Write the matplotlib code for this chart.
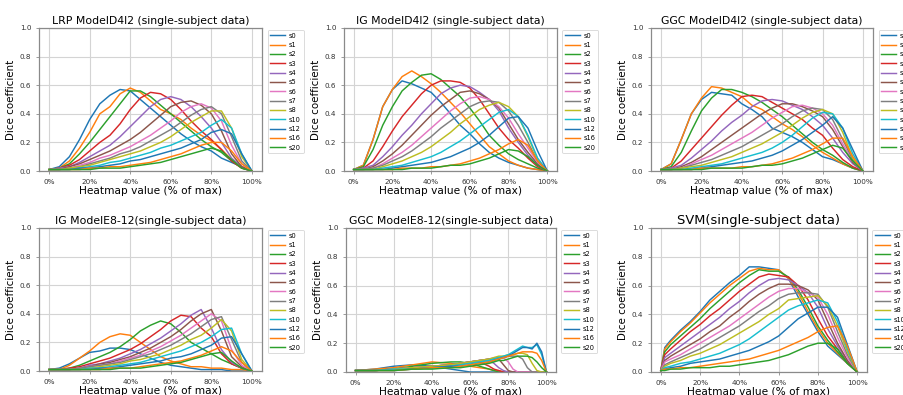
import matplotlib
matplotlib.use("Agg")
import matplotlib.pyplot as plt
from matplotlib.ticker import FuncFormatter

W, H = 904, 395
labels = ["s0", "s1", "s2", "s3", "s4", "s5", "s6", "s7", "s8", "s10", "s12", "s16", "s20"]
colors = ["#1f77b4", "#ff7f0e", "#2ca02c", "#d62728", "#9467bd", "#8c564b",
          "#e377c2", "#7f7f7f", "#bcbd22", "#17becf", "#1f77b4", "#ff7f0e", "#2ca02c"]

X = [0, 5, 10, 15, 20, 25, 30, 35, 40, 45, 50, 55, 60, 65, 70, 75, 80, 85, 90, 95, 100]
X_SVM = [0, 2, 5, 10, 15, 20, 25, 30, 35, 40, 45, 50, 55, 60, 65, 70, 75, 80, 85, 90, 95, 100]
X_GGC_E = [0, 10, 20, 30, 40, 50, 55, 60, 65, 70, 72.5, 75, 77.5, 80, 82.5, 85, 87.5, 90, 92.5, 95, 97.5, 100]

lrp_d4l2 = [
    [0.01, 0.03, 0.10, 0.22, 0.36, 0.47, 0.53, 0.57, 0.56, 0.50, 0.44, 0.38, 0.32, 0.26, 0.21, 0.17, 0.14, 0.09, 0.06, 0.03, 0.0],
    [0.01, 0.02, 0.07, 0.16, 0.27, 0.40, 0.45, 0.54, 0.58, 0.55, 0.49, 0.43, 0.40, 0.36, 0.30, 0.25, 0.21, 0.15, 0.08, 0.03, 0.0],
    [0.01, 0.02, 0.05, 0.12, 0.20, 0.29, 0.38, 0.47, 0.56, 0.56, 0.52, 0.46, 0.40, 0.34, 0.28, 0.22, 0.17, 0.13, 0.07, 0.02, 0.0],
    [0.01, 0.02, 0.04, 0.08, 0.14, 0.20, 0.25, 0.33, 0.43, 0.51, 0.55, 0.54, 0.50, 0.43, 0.35, 0.28, 0.22, 0.15, 0.07, 0.02, 0.0],
    [0.01, 0.02, 0.03, 0.06, 0.10, 0.14, 0.18, 0.24, 0.31, 0.38, 0.45, 0.50, 0.52, 0.50, 0.45, 0.38, 0.30, 0.20, 0.09, 0.03, 0.0],
    [0.01, 0.01, 0.03, 0.05, 0.08, 0.11, 0.14, 0.18, 0.22, 0.27, 0.33, 0.39, 0.45, 0.48, 0.49, 0.46, 0.40, 0.28, 0.12, 0.03, 0.0],
    [0.01, 0.01, 0.02, 0.04, 0.06, 0.09, 0.11, 0.14, 0.17, 0.21, 0.25, 0.30, 0.35, 0.41, 0.45, 0.47, 0.44, 0.35, 0.18, 0.05, 0.0],
    [0.01, 0.01, 0.02, 0.03, 0.05, 0.07, 0.09, 0.12, 0.14, 0.17, 0.21, 0.25, 0.29, 0.34, 0.39, 0.43, 0.45, 0.40, 0.24, 0.07, 0.0],
    [0.01, 0.01, 0.02, 0.03, 0.04, 0.06, 0.08, 0.10, 0.12, 0.14, 0.17, 0.20, 0.24, 0.29, 0.34, 0.38, 0.42, 0.42, 0.30, 0.10, 0.0],
    [0.01, 0.01, 0.01, 0.02, 0.03, 0.04, 0.06, 0.07, 0.09, 0.11, 0.13, 0.16, 0.18, 0.21, 0.24, 0.27, 0.32, 0.36, 0.30, 0.12, 0.0],
    [0.01, 0.01, 0.01, 0.02, 0.02, 0.03, 0.04, 0.05, 0.07, 0.08, 0.10, 0.12, 0.14, 0.16, 0.19, 0.22, 0.27, 0.29, 0.26, 0.12, 0.0],
    [0.01, 0.01, 0.01, 0.01, 0.02, 0.02, 0.03, 0.03, 0.04, 0.05, 0.06, 0.08, 0.10, 0.12, 0.15, 0.18, 0.20, 0.20, 0.14, 0.05, 0.0],
    [0.01, 0.01, 0.01, 0.01, 0.01, 0.02, 0.02, 0.02, 0.03, 0.04, 0.05, 0.06, 0.08, 0.10, 0.12, 0.14, 0.16, 0.14, 0.08, 0.02, 0.0],
]

ig_d4l2 = [
    [0.01, 0.04, 0.22, 0.45, 0.57, 0.63, 0.61, 0.58, 0.55, 0.48, 0.40, 0.32, 0.26, 0.19, 0.13, 0.09, 0.06, 0.04, 0.02, 0.01, 0.0],
    [0.01, 0.04, 0.22, 0.45, 0.57, 0.66, 0.70, 0.66, 0.61, 0.55, 0.48, 0.41, 0.33, 0.25, 0.17, 0.12, 0.07, 0.04, 0.02, 0.01, 0.0],
    [0.01, 0.03, 0.15, 0.32, 0.45, 0.56, 0.62, 0.67, 0.68, 0.64, 0.58, 0.52, 0.44, 0.35, 0.25, 0.18, 0.12, 0.08, 0.05, 0.02, 0.0],
    [0.01, 0.02, 0.07, 0.17, 0.28, 0.38, 0.46, 0.54, 0.60, 0.63, 0.63, 0.62, 0.58, 0.50, 0.40, 0.30, 0.22, 0.16, 0.09, 0.03, 0.0],
    [0.01, 0.02, 0.04, 0.10, 0.17, 0.25, 0.32, 0.40, 0.47, 0.54, 0.58, 0.60, 0.59, 0.55, 0.50, 0.42, 0.30, 0.20, 0.11, 0.04, 0.0],
    [0.01, 0.01, 0.03, 0.07, 0.12, 0.18, 0.25, 0.32, 0.39, 0.45, 0.50, 0.55, 0.56, 0.54, 0.50, 0.44, 0.33, 0.22, 0.13, 0.05, 0.0],
    [0.01, 0.01, 0.02, 0.05, 0.09, 0.13, 0.18, 0.24, 0.30, 0.36, 0.42, 0.47, 0.51, 0.52, 0.50, 0.45, 0.37, 0.26, 0.16, 0.06, 0.0],
    [0.01, 0.01, 0.02, 0.04, 0.07, 0.10, 0.14, 0.19, 0.24, 0.30, 0.35, 0.40, 0.45, 0.48, 0.49, 0.48, 0.42, 0.32, 0.20, 0.07, 0.0],
    [0.01, 0.01, 0.01, 0.03, 0.05, 0.07, 0.10, 0.13, 0.17, 0.22, 0.27, 0.33, 0.38, 0.43, 0.46, 0.48, 0.45, 0.38, 0.24, 0.08, 0.0],
    [0.01, 0.01, 0.01, 0.02, 0.03, 0.04, 0.06, 0.08, 0.10, 0.13, 0.17, 0.21, 0.26, 0.31, 0.36, 0.41, 0.43, 0.38, 0.25, 0.09, 0.0],
    [0.01, 0.01, 0.01, 0.01, 0.02, 0.03, 0.04, 0.05, 0.06, 0.08, 0.10, 0.13, 0.16, 0.20, 0.25, 0.31, 0.37, 0.38, 0.30, 0.14, 0.0],
    [0.01, 0.01, 0.01, 0.01, 0.01, 0.02, 0.02, 0.02, 0.03, 0.03, 0.04, 0.05, 0.07, 0.09, 0.12, 0.15, 0.19, 0.22, 0.18, 0.07, 0.0],
    [0.01, 0.01, 0.01, 0.01, 0.01, 0.01, 0.02, 0.02, 0.02, 0.03, 0.04, 0.04, 0.05, 0.07, 0.09, 0.12, 0.15, 0.14, 0.10, 0.04, 0.0],
]

ggc_d4l2 = [
    [0.01, 0.05, 0.22, 0.40, 0.50, 0.55, 0.54, 0.53, 0.47, 0.43, 0.38, 0.30, 0.27, 0.24, 0.20, 0.15, 0.10, 0.08, 0.05, 0.02, 0.0],
    [0.01, 0.05, 0.22, 0.40, 0.51, 0.59, 0.58, 0.55, 0.52, 0.46, 0.43, 0.38, 0.33, 0.29, 0.24, 0.18, 0.13, 0.09, 0.05, 0.02, 0.0],
    [0.01, 0.03, 0.13, 0.28, 0.42, 0.51, 0.57, 0.57, 0.55, 0.52, 0.48, 0.43, 0.38, 0.32, 0.26, 0.20, 0.15, 0.11, 0.06, 0.02, 0.0],
    [0.01, 0.02, 0.07, 0.15, 0.23, 0.31, 0.39, 0.46, 0.52, 0.53, 0.52, 0.48, 0.44, 0.40, 0.36, 0.30, 0.25, 0.16, 0.08, 0.03, 0.0],
    [0.01, 0.02, 0.04, 0.09, 0.15, 0.21, 0.28, 0.34, 0.39, 0.45, 0.49, 0.50, 0.49, 0.46, 0.43, 0.38, 0.32, 0.23, 0.13, 0.05, 0.0],
    [0.01, 0.01, 0.03, 0.06, 0.10, 0.15, 0.20, 0.25, 0.30, 0.35, 0.40, 0.44, 0.47, 0.47, 0.45, 0.42, 0.38, 0.29, 0.17, 0.06, 0.0],
    [0.01, 0.01, 0.02, 0.05, 0.08, 0.11, 0.15, 0.19, 0.23, 0.27, 0.32, 0.37, 0.41, 0.45, 0.46, 0.44, 0.40, 0.32, 0.19, 0.07, 0.0],
    [0.01, 0.01, 0.02, 0.04, 0.06, 0.08, 0.11, 0.14, 0.17, 0.21, 0.25, 0.29, 0.33, 0.38, 0.42, 0.44, 0.43, 0.36, 0.22, 0.08, 0.0],
    [0.01, 0.01, 0.02, 0.03, 0.04, 0.06, 0.08, 0.10, 0.13, 0.16, 0.19, 0.23, 0.27, 0.32, 0.37, 0.41, 0.43, 0.40, 0.27, 0.09, 0.0],
    [0.01, 0.01, 0.01, 0.02, 0.03, 0.04, 0.05, 0.07, 0.09, 0.11, 0.13, 0.16, 0.20, 0.25, 0.31, 0.37, 0.41, 0.40, 0.30, 0.12, 0.0],
    [0.01, 0.01, 0.01, 0.01, 0.02, 0.03, 0.04, 0.05, 0.06, 0.07, 0.09, 0.11, 0.14, 0.18, 0.22, 0.27, 0.32, 0.38, 0.30, 0.15, 0.0],
    [0.01, 0.01, 0.01, 0.01, 0.02, 0.02, 0.02, 0.02, 0.03, 0.03, 0.04, 0.05, 0.07, 0.09, 0.12, 0.15, 0.19, 0.23, 0.23, 0.10, 0.0],
    [0.01, 0.01, 0.01, 0.01, 0.01, 0.02, 0.02, 0.02, 0.02, 0.03, 0.04, 0.04, 0.05, 0.07, 0.09, 0.12, 0.15, 0.18, 0.16, 0.07, 0.0],
]

ig_e812 = [
    [0.01, 0.02, 0.05, 0.09, 0.13, 0.14, 0.16, 0.16, 0.15, 0.12, 0.09, 0.06, 0.04, 0.03, 0.02, 0.01, 0.01, 0.01, 0.0, 0.0, 0.0],
    [0.01, 0.01, 0.04, 0.09, 0.14, 0.20, 0.24, 0.26, 0.25, 0.20, 0.15, 0.10, 0.07, 0.05, 0.03, 0.03, 0.02, 0.02, 0.01, 0.01, 0.0],
    [0.01, 0.01, 0.02, 0.04, 0.07, 0.10, 0.13, 0.17, 0.22, 0.28, 0.32, 0.35, 0.33, 0.27, 0.20, 0.16, 0.12, 0.08, 0.05, 0.02, 0.0],
    [0.01, 0.01, 0.02, 0.03, 0.05, 0.07, 0.09, 0.12, 0.15, 0.19, 0.24, 0.29, 0.35, 0.39, 0.38, 0.30, 0.24, 0.12, 0.05, 0.02, 0.0],
    [0.01, 0.01, 0.01, 0.02, 0.04, 0.05, 0.07, 0.09, 0.12, 0.15, 0.19, 0.23, 0.28, 0.33, 0.39, 0.43, 0.30, 0.15, 0.06, 0.02, 0.0],
    [0.01, 0.01, 0.01, 0.02, 0.03, 0.05, 0.06, 0.08, 0.10, 0.13, 0.16, 0.20, 0.24, 0.29, 0.35, 0.40, 0.43, 0.28, 0.10, 0.03, 0.0],
    [0.01, 0.01, 0.01, 0.02, 0.03, 0.04, 0.05, 0.07, 0.09, 0.11, 0.14, 0.17, 0.21, 0.25, 0.30, 0.35, 0.40, 0.35, 0.15, 0.04, 0.0],
    [0.01, 0.01, 0.01, 0.02, 0.03, 0.04, 0.05, 0.06, 0.08, 0.10, 0.12, 0.15, 0.18, 0.22, 0.26, 0.31, 0.36, 0.38, 0.22, 0.06, 0.0],
    [0.01, 0.01, 0.01, 0.01, 0.02, 0.03, 0.04, 0.05, 0.07, 0.08, 0.10, 0.12, 0.15, 0.18, 0.22, 0.25, 0.30, 0.36, 0.28, 0.08, 0.0],
    [0.01, 0.01, 0.01, 0.01, 0.02, 0.02, 0.03, 0.04, 0.05, 0.06, 0.08, 0.10, 0.12, 0.14, 0.17, 0.20, 0.24, 0.29, 0.30, 0.12, 0.0],
    [0.01, 0.01, 0.01, 0.01, 0.01, 0.02, 0.02, 0.03, 0.04, 0.05, 0.06, 0.07, 0.09, 0.10, 0.12, 0.15, 0.18, 0.23, 0.24, 0.12, 0.0],
    [0.01, 0.01, 0.01, 0.01, 0.01, 0.01, 0.02, 0.02, 0.02, 0.03, 0.04, 0.05, 0.06, 0.07, 0.09, 0.11, 0.14, 0.17, 0.14, 0.06, 0.0],
    [0.01, 0.01, 0.01, 0.01, 0.01, 0.01, 0.01, 0.02, 0.02, 0.02, 0.03, 0.04, 0.05, 0.06, 0.08, 0.10, 0.12, 0.13, 0.07, 0.02, 0.0],
]

ggc_e812 = [
    [0.01, 0.02, 0.04, 0.05, 0.04, 0.02, 0.01, 0.0, 0.0, 0.0, 0.0, 0.0, 0.0, 0.0, 0.0, 0.0, 0.0, 0.0, 0.0, 0.0, 0.0, 0.0],
    [0.01, 0.02, 0.03, 0.05, 0.07, 0.06, 0.05, 0.04, 0.03, 0.02, 0.01, 0.01, 0.0, 0.0, 0.0, 0.0, 0.0, 0.0, 0.0, 0.0, 0.0, 0.0],
    [0.01, 0.01, 0.02, 0.04, 0.06, 0.07, 0.07, 0.06, 0.04, 0.02, 0.01, 0.0, 0.0, 0.0, 0.0, 0.0, 0.0, 0.0, 0.0, 0.0, 0.0, 0.0],
    [0.01, 0.01, 0.02, 0.03, 0.04, 0.05, 0.06, 0.07, 0.07, 0.04, 0.02, 0.01, 0.0, 0.0, 0.0, 0.0, 0.0, 0.0, 0.0, 0.0, 0.0, 0.0],
    [0.01, 0.01, 0.02, 0.03, 0.04, 0.05, 0.06, 0.07, 0.08, 0.08, 0.06, 0.03, 0.01, 0.0, 0.0, 0.0, 0.0, 0.0, 0.0, 0.0, 0.0, 0.0],
    [0.01, 0.01, 0.02, 0.03, 0.04, 0.05, 0.06, 0.07, 0.08, 0.09, 0.09, 0.09, 0.05, 0.01, 0.0, 0.0, 0.0, 0.0, 0.0, 0.0, 0.0, 0.0],
    [0.01, 0.01, 0.02, 0.03, 0.04, 0.05, 0.06, 0.07, 0.08, 0.09, 0.10, 0.10, 0.10, 0.07, 0.02, 0.0, 0.0, 0.0, 0.0, 0.0, 0.0, 0.0],
    [0.01, 0.01, 0.02, 0.03, 0.04, 0.05, 0.06, 0.07, 0.08, 0.09, 0.09, 0.10, 0.10, 0.11, 0.11, 0.11, 0.09, 0.03, 0.0, 0.0, 0.0, 0.0],
    [0.01, 0.01, 0.02, 0.03, 0.04, 0.05, 0.06, 0.07, 0.08, 0.09, 0.10, 0.11, 0.11, 0.12, 0.12, 0.13, 0.13, 0.12, 0.06, 0.01, 0.0, 0.0],
    [0.01, 0.01, 0.02, 0.02, 0.03, 0.04, 0.05, 0.06, 0.07, 0.08, 0.09, 0.10, 0.11, 0.12, 0.14, 0.16, 0.18, 0.17, 0.17, 0.19, 0.12, 0.0],
    [0.01, 0.01, 0.01, 0.02, 0.03, 0.04, 0.04, 0.05, 0.06, 0.07, 0.08, 0.09, 0.10, 0.11, 0.13, 0.15, 0.17, 0.17, 0.16, 0.20, 0.14, 0.0],
    [0.01, 0.01, 0.01, 0.02, 0.03, 0.03, 0.04, 0.05, 0.06, 0.07, 0.08, 0.09, 0.10, 0.11, 0.12, 0.13, 0.14, 0.14, 0.14, 0.13, 0.08, 0.0],
    [0.01, 0.01, 0.01, 0.02, 0.02, 0.03, 0.03, 0.04, 0.05, 0.06, 0.07, 0.08, 0.08, 0.09, 0.10, 0.11, 0.11, 0.11, 0.10, 0.07, 0.03, 0.0],
]

svm = [
    [0.01, 0.17, 0.22, 0.29, 0.35, 0.42, 0.50, 0.56, 0.62, 0.67, 0.73, 0.73, 0.72, 0.71, 0.65, 0.52, 0.40, 0.28, 0.18, 0.12, 0.06, 0.0],
    [0.01, 0.16, 0.21, 0.28, 0.34, 0.41, 0.48, 0.54, 0.60, 0.65, 0.70, 0.72, 0.71, 0.71, 0.65, 0.55, 0.42, 0.30, 0.20, 0.13, 0.06, 0.0],
    [0.01, 0.14, 0.19, 0.25, 0.31, 0.37, 0.44, 0.50, 0.56, 0.62, 0.67, 0.71, 0.70, 0.70, 0.66, 0.57, 0.45, 0.32, 0.22, 0.14, 0.06, 0.0],
    [0.01, 0.12, 0.16, 0.22, 0.28, 0.33, 0.39, 0.44, 0.50, 0.56, 0.61, 0.66, 0.68, 0.67, 0.66, 0.60, 0.50, 0.37, 0.25, 0.16, 0.07, 0.0],
    [0.01, 0.10, 0.13, 0.18, 0.23, 0.28, 0.33, 0.38, 0.44, 0.49, 0.55, 0.60, 0.64, 0.65, 0.64, 0.60, 0.55, 0.45, 0.30, 0.18, 0.08, 0.0],
    [0.01, 0.08, 0.11, 0.15, 0.19, 0.23, 0.28, 0.32, 0.38, 0.43, 0.49, 0.54, 0.58, 0.61, 0.61, 0.60, 0.57, 0.50, 0.35, 0.20, 0.08, 0.0],
    [0.01, 0.07, 0.09, 0.12, 0.16, 0.20, 0.24, 0.28, 0.32, 0.37, 0.42, 0.47, 0.52, 0.56, 0.58, 0.58, 0.55, 0.52, 0.40, 0.24, 0.10, 0.0],
    [0.01, 0.05, 0.07, 0.10, 0.13, 0.16, 0.20, 0.24, 0.28, 0.32, 0.37, 0.42, 0.46, 0.51, 0.54, 0.55, 0.55, 0.54, 0.45, 0.28, 0.12, 0.0],
    [0.01, 0.04, 0.06, 0.08, 0.11, 0.13, 0.16, 0.19, 0.23, 0.27, 0.31, 0.35, 0.40, 0.44, 0.50, 0.51, 0.52, 0.53, 0.46, 0.32, 0.14, 0.0],
    [0.01, 0.03, 0.04, 0.06, 0.07, 0.09, 0.11, 0.13, 0.16, 0.19, 0.23, 0.28, 0.33, 0.38, 0.43, 0.46, 0.48, 0.50, 0.48, 0.35, 0.16, 0.0],
    [0.01, 0.02, 0.03, 0.04, 0.06, 0.07, 0.08, 0.09, 0.11, 0.13, 0.15, 0.18, 0.21, 0.25, 0.31, 0.37, 0.41, 0.45, 0.45, 0.38, 0.19, 0.0],
    [0.01, 0.02, 0.02, 0.03, 0.03, 0.04, 0.05, 0.06, 0.07, 0.08, 0.09, 0.11, 0.13, 0.15, 0.18, 0.21, 0.24, 0.28, 0.31, 0.32, 0.18, 0.0],
    [0.01, 0.01, 0.02, 0.02, 0.03, 0.03, 0.03, 0.04, 0.04, 0.05, 0.06, 0.07, 0.08, 0.10, 0.12, 0.15, 0.18, 0.20, 0.20, 0.16, 0.06, 0.0],
]

panels = [
    ("LRP ModelD4l2 (single-subject data)", X, lrp_d4l2, (39, 262, 28, 171), 7.8),
    ("IG ModelD4l2 (single-subject data)", X, ig_d4l2, (344, 557, 28, 171), 7.8),
    ("GGC ModelD4l2 (single-subject data)", X, ggc_d4l2, (651, 873, 28, 171), 7.8),
    ("IG ModelE8-12(single-subject data)", X, ig_e812, (39, 262, 228, 371), 7.8),
    ("GGC ModelE8-12(single-subject data)", X_GGC_E, ggc_e812, (346, 556, 228, 372), 7.8),
    ("SVM(single-subject data)", X_SVM, svm, (651, 867, 228, 372), 9.4),
]

fig = plt.figure(figsize=(W / 100, H / 100), dpi=100)
for title, xs, series, (l, r, t, b), tfs in panels:
    ax = fig.add_axes([l / W, 1 - b / H, (r - l) / W, (b - t) / H])
    for lab, col, ys in zip(labels, colors, series):
        ax.plot(xs, ys, color=col, lw=1.05, label=lab)
    ax.set_xlim(-5, 105)
    ax.set_ylim(0, 1.0)
    ax.set_xticks([0, 20, 40, 60, 80, 100])
    ax.xaxis.set_major_formatter(FuncFormatter(lambda v, p: f"{int(v)}%"))
    ax.set_yticks([0, 0.2, 0.4, 0.6, 0.8, 1.0])
    ax.grid(True, color="#d4d4d4", lw=0.8)
    ax.set_axisbelow(True)
    for s in ax.spines.values():
        s.set_color("#8a8a8a")
        s.set_linewidth(0.9)
    ax.tick_params(labelsize=5.2, colors="#333333", length=2, width=0.6)
    ax.tick_params(color="#8a8a8a")
    ax.set_title(title, fontsize=tfs, pad=3)
    ax.set_xlabel("Heatmap value (% of max)", fontsize=7.6, labelpad=1)
    ax.set_ylabel("Dice coefficient", fontsize=7.4, labelpad=3)
    leg = ax.legend(loc="upper left", bbox_to_anchor=(1.01, 1.01), fontsize=4.8,
                    handlelength=2.2, labelspacing=0.5, borderpad=0.4,
                    handletextpad=0.6, frameon=True)
    leg.get_frame().set_edgecolor("#cccccc")
    leg.get_frame().set_linewidth(0.6)

fig.savefig("out.png", dpi=100)
